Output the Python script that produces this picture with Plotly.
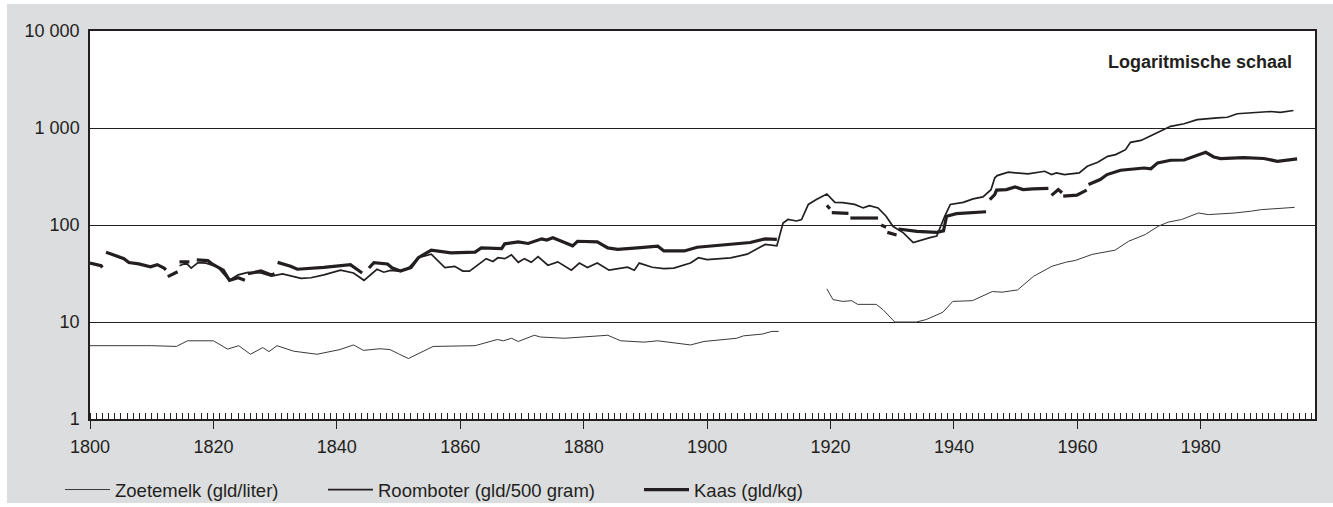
import plotly.graph_objects as go

# ---------------- data ----------------
milk_years = [1800, 1805, 1810, 1814, 1815.8, 1820, 1822.3, 1824.1, 1826, 1828, 1829, 1830.3,
              1833, 1836.8, 1840.5, 1842.7, 1844.3, 1847, 1848.6, 1850, 1851.6, 1855.6, 1862.4,
              1866, 1867, 1868.3, 1869.4, 1872, 1873, 1876.9, 1883.9, 1886, 1889.8, 1892, 1897.3,
              1899.5, 1901.6, 1904.8, 1905.9, 1908.9, 1910.5, 1911.6, None,
              1919.4, 1920.4, 1922, 1923.4, 1924.4, 1927.4, 1928.5, 1930.4, 1933.9, 1935.5,
              1938.2, 1939.8, 1943, 1946.2, 1947.8, 1950.3, 1952.9, 1955.9, 1958.1, 1959.7,
              1962.4, 1966.1, 1968.3, 1971, 1973.1, 1974.7, 1976.9, 1979.6, 1981.2, 1985.5,
              1988.2, 1989.8, 1995.2]
milk_values = [5.7, 5.75, 5.7, 5.6, 6.4, 6.4, 5.25, 5.7, 4.65, 5.45, 4.95, 5.7,
               5.0, 4.65, 5.2, 5.8, 5.1, 5.3, 5.2, 4.7, 4.2, 5.6, 5.7,
               6.6, 6.4, 6.8, 6.3, 7.3, 7.0, 6.8, 7.3, 6.4, 6.2, 6.4, 5.8,
               6.3, 6.5, 6.8, 7.2, 7.5, 8.0, 8.0, None,
               22, 17, 16.3, 16.6, 15.2, 15.2, 13.4, 10, 10, 10.6,
               12.6, 16.3, 16.6, 20.6, 20.3, 21.4, 29.6, 37.6, 41.3, 43.2,
               49.8, 55, 68, 79.8, 97, 107, 114, 133, 128, 133,
               139, 144, 152]

butter_years = [1814.5, 1815.6, 1816.4, 1817.5, 1818.8, 1820.7, 1821.8, 1822.6, 1824, 1825.6,
                1827.7, 1829.4, 1831.2, 1834.2, 1835.8, 1837.9, 1840.6, 1842.7, 1844.4, 1846.5,
                1847.6, 1848.7, 1850, 1851.6, 1853.2, 1855.3, 1857.5, 1859.1, 1860.4, 1861.5,
                1864.2, 1865.3, 1866.1, 1867.2, 1868.3, 1869.4, 1870.4, 1871.5, 1872.6, 1874.2,
                1875.8, 1878, 1879.3, 1880.6, 1882.2, 1884.1, 1887.1, 1888.2, 1889, 1891.1,
                1893, 1894.6, 1897.3, 1898.6, 1900, 1901.6, 1903.8, 1906.5, 1909.4, 1911.3,
                1912.3, 1913.1, 1914.5, 1915.3, 1916.4, 1917.7, 1919.4, 1920.7, 1922, 1923.9,
                1925.3, 1926.3, 1927.7, 1929, 1930.1, 1931.8, 1933.4, 1936.1, 1937.2, 1938.5,
                1939.4, 1941.5, 1943.1, 1944.7, 1946, 1946.6, 1947, 1948.8, 1952, 1954.7,
                1955.8, 1956.6, 1957.9, 1960.3, 1961.6, 1963.3, 1964.9, 1966.2, 1967.8, 1968.6,
                1970.3, 1971.9, 1973.2, 1975.1, 1977.3, 1979.4, 1982.7, 1984.3, 1985.9, 1988.6,
                1991.3, 1992.9, 1995]
butter_values = [38, 40.5, 36, 41, 40.5, 37, 30.6, 26.9, 30.6, 32.5,
                 32, 29.7, 31.4, 28.2, 28.6, 30.6, 34.2, 32, 26.9, 35,
                 32.6, 34, 33.5, 36, 46, 50, 36.4, 37.5, 33.5, 33.5,
                 45, 42, 46, 45, 49.2, 41.2, 45, 41.2, 47.2, 38.5,
                 41.7, 34.2, 40.5, 36.5, 40.5, 34.2, 36.7, 34.2, 40.5, 36.7,
                 35.5, 36, 40.5, 46, 44, 45, 45.8, 50, 63, 61,
                 105, 114, 110, 114, 163, 183, 209, 171, 170, 163,
                 150, 158, 150, 123, 97, 83, 66, 74, 77, 123,
                 163, 171, 186, 195, 231, 305, 323, 350, 336, 358,
                 331, 345, 331, 344, 403, 443, 510, 532, 598, 711,
                 745, 833, 917, 1040, 1107, 1218, 1270, 1290, 1403, 1450,
                 1480, 1450, 1515]

kaas_years = [1800, 1801, 1801.8, 1802, None,
              1802.6, 1804, 1805.5, 1806.3, 1807.9, 1809.8, 1810.9, 1812, 1812.3, None,
              1812.6, 1813.9, 1814.2, None,
              1814.5, 1816.1, None,
              1817.3, 1819.1, 1819.7, 1821.6, 1822.6, 1824, 1825.1, None,
              1825.6, 1827.7, 1829.4, 1829.9, None,
              1830.4, 1832.5, 1833.6, 1837.9, 1842.2, 1843.3, 1844.1, None,
              1845.2, 1846, 1848.2, 1849, 1850.3, 1852, 1853.2, 1855.3, 1858.5, 1862.4, 1863.4,
              1866.7, 1867.2, 1869.4, 1871, 1873.2, 1874, 1875, 1876.9, 1878.2, 1879, 1882.2,
              1883.9, 1885.5, 1888.7, 1890.9, 1892, 1893, 1896.3, 1898.4, 1900.5, 1903.8, 1907,
              1909.4, 1911.3, None,
              1919.4, 1919.9, None,
              1920.2, 1922.9, None,
              1923.2, 1925.3, 1927.7, None,
              1928.2, 1929, None,
              1929.2, 1930.7, None,
              1931, 1931.8, 1934, 1937.2, 1938.3, 1938.8, 1940.4, 1945.2, None,
              1945.8, 1946.6, 1946.9, 1948.5, 1949.9, 1951.2, 1952.8, 1955.3, None,
              1955.8, 1956.9, 1957.5, None,
              1957.7, 1959.9, 1961.5, None,
              1961.8, 1963.7, 1964.8, 1967, 1970.8, 1971.9, 1973, 1975.1, 1977.3, 1979.4, 1980.8,
              1982.1, 1983.2, 1986.9, 1990.2, 1992.4, 1995.6]
kaas_values = [40.5, 39.5, 38, 36.5, None,
               52.5, 48.6, 45, 41, 39.7, 37, 39, 36, 34.5, None,
               29.4, 32, 33, None,
               41.7, 41.7, None,
               43.7, 43, 40, 34.2, 26.9, 28.6, 27, None,
               31.4, 33.6, 30.5, 31.4, None,
               41.2, 37.6, 35, 36.5, 39, 35, 32, None,
               36, 41, 39.7, 36, 33.5, 36.4, 46, 55, 51.5, 52.5, 58,
               57, 64, 67, 64.5, 72, 70, 74, 66, 61, 68, 67,
               58, 56, 58, 59.5, 60.5, 54, 54, 59, 60.8, 63, 66,
               72, 71, None,
               159, 147, None,
               134, 132, None,
               118, 117, 118, None,
               100, 95, None,
               84, 79, None,
               91, 90, 86, 84, 87, 123, 131, 137, None,
               183, 206, 229, 232, 247, 232, 236, 239, None,
               202, 232, 215, None,
               198, 203, 229, None,
               261, 294, 331, 367, 387, 380, 437, 465, 468, 519, 561,
               503, 484, 495, 485, 454, 480]

x_tick_years = [1800, 1820, 1840, 1860, 1880, 1900, 1920, 1940, 1960, 1980]
y_tick_values = [1, 10, 100, 1000, 10000]
y_tick_labels = ["1", "10", "100", "1 000", "10 000"]

series_names = ["Zoetemelk (gld/liter)", "Roomboter (gld/500 gram)", "Kaas (gld/kg)"]
note_text = "Logaritmische schaal"

# ---------------- figure ----------------
FONT = "Liberation Sans, Arial, Helvetica, sans-serif"
INK = "#231f20"

fig = go.Figure()
fig.add_trace(go.Scatter(x=milk_years, y=milk_values, mode="lines", name=series_names[0],
                         line=dict(color="#3a3a3a", width=1), legend="legend"))
fig.add_trace(go.Scatter(x=butter_years, y=butter_values, mode="lines", name=series_names[1],
                         line=dict(color=INK, width=1.7), legend="legend2"))
fig.add_trace(go.Scatter(x=kaas_years, y=kaas_values, mode="lines", name=series_names[2],
                         line=dict(color=INK, width=3.2), legend="legend3"))

W, H = 1333, 507
L, R, T, B = 90, 18, 31, 88
pw, ph = W - L - R, H - T - B

def px_x(px):
    return (px - L) / pw

def px_y(py):
    return (H - B - py) / ph

legend_common = dict(orientation="h", yanchor="middle", xanchor="left",
                     bgcolor="rgba(0,0,0,0)", font=dict(family=FONT, size=18.5, color=INK),
                     itemwidth=45, borderwidth=0)

fig.update_layout(
    width=W, height=H,
    margin=dict(l=L, r=R, t=T, b=B, autoexpand=False),
    paper_bgcolor="white",
    plot_bgcolor="white",
    font=dict(family=FONT, size=18, color=INK),
    showlegend=True,
    legend=dict(x=px_x(60), y=px_y(490), **legend_common),
    legend2=dict(x=px_x(323), y=px_y(490), **legend_common),
    legend3=dict(x=px_x(639), y=px_y(490), **legend_common),
    xaxis=dict(
        range=[1800, 1998.5], tickvals=x_tick_years, ticks="outside", ticklen=8,
        tickcolor=INK, tickwidth=1.2, showgrid=False, zeroline=False,
        showline=True, linecolor=INK, linewidth=1.5, mirror=True,
        ticklabelstandoff=3, automargin=False,
        tickfont=dict(family=FONT, size=18, color=INK),
        minor=dict(dtick=1, ticks="inside", ticklen=6, tickcolor=INK, tickwidth=1, showgrid=False),
    ),
    yaxis=dict(
        type="log", range=[0, 4], tickvals=y_tick_values, ticktext=y_tick_labels,
        ticks="", showgrid=True, gridcolor=INK, gridwidth=1, zeroline=False,
        showline=True, linecolor=INK, linewidth=1.5, mirror=True,
        ticklabelstandoff=5, automargin=False,
        tickfont=dict(family=FONT, size=18, color=INK),
    ),
    shapes=[
        dict(type="rect", xref="paper", yref="paper", layer="below",
             x0=px_x(7), x1=px_x(1333), y0=px_y(503), y1=px_y(4),
             fillcolor="#dcdddf", line=dict(width=0)),
        dict(type="rect", xref="x domain", yref="y domain", layer="below",
             x0=0, x1=1, y0=0, y1=1, fillcolor="white", line=dict(width=0)),
    ],
    annotations=[
        dict(text="<b>" + note_text + "</b>", xref="paper", yref="paper",
             x=px_x(1294), y=px_y(62), xanchor="right", yanchor="middle",
             showarrow=False, font=dict(family=FONT, size=18, color=INK)),
    ],
)

fig.write_html("out.html", config={"displayModeBar": False},
               post_script="document.body.style.margin='0';document.body.style.overflow='hidden';")
